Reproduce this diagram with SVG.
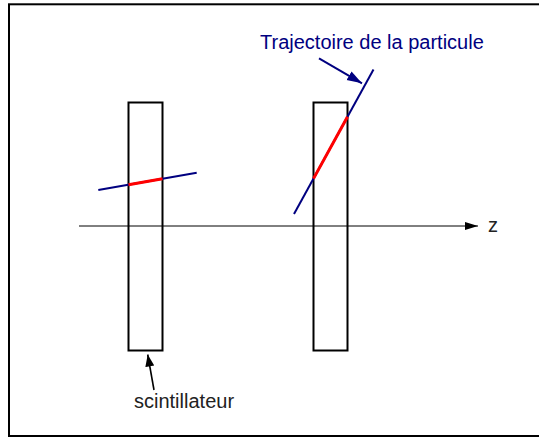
<svg xmlns="http://www.w3.org/2000/svg" width="539" height="437" viewBox="0 0 539 437">
<defs>
<style>
.frame{fill:#fff;stroke:#000;stroke-width:2}
.scint{fill:none;stroke:#000;stroke-width:2}
.traj{stroke:#000080;stroke-width:2;fill:none}
.hit{stroke:#ff0000;stroke-width:3;fill:none}
.lbl{font-family:"Liberation Sans",Arial,sans-serif;font-size:20px}
</style>
<marker id="ahBlack" viewBox="0 0 12 10" refX="12" refY="5" markerWidth="12" markerHeight="10" markerUnits="userSpaceOnUse" orient="auto">
<path d="M0,0.5 L12,5 L0,9.5 Z" fill="#000"/>
</marker>
<marker id="ahAxis" viewBox="0 0 13 9" refX="13" refY="4.5" markerWidth="13" markerHeight="9" markerUnits="userSpaceOnUse" orient="auto">
<path d="M0,0.5 L13,4.5 L0,8.5 Z" fill="#000"/>
</marker>
<marker id="ahBlue" viewBox="0 0 15 11" refX="15" refY="5.5" markerWidth="15" markerHeight="11" markerUnits="userSpaceOnUse" orient="auto">
<path d="M0,0.5 L15,5.5 L0,10.5 Z" fill="#000080"/>
</marker>
</defs>
<rect class="frame" x="9" y="4.3" width="540" height="431.7"/>
<g id="scintillator-1"><rect class="scint" x="128.5" y="102.5" width="34" height="248"/></g>
<g id="scintillator-2"><rect class="scint" x="313.5" y="102.5" width="34" height="248"/></g>
<g id="connectors">
<line x1="79" y1="226" x2="478" y2="226" stroke="#000" stroke-width="1" marker-end="url(#ahAxis)"/>
<line class="traj" x1="98.3" y1="190" x2="196.7" y2="172.7"/>
<line class="hit" x1="128.5" y1="184.7" x2="162.5" y2="178.7"/>
<line class="traj" x1="294" y1="214" x2="373.5" y2="69.5"/>
<line class="hit" x1="313.5" y1="178.6" x2="347.5" y2="116.8"/>
<line x1="319" y1="58.3" x2="362" y2="83.3" stroke="#000080" stroke-width="2" marker-end="url(#ahBlue)"/>
<line x1="154" y1="390" x2="147.7" y2="354.5" stroke="#000" stroke-width="1.6" marker-end="url(#ahBlack)"/>
</g>
<g id="label-trajectoire"><text class="lbl" x="260" y="49.3" fill="#000080">Trajectoire de la particule</text></g>
<g id="label-scintillateur"><text class="lbl" x="134" y="407.7" fill="#222">scintillateur</text></g>
<g id="label-z"><text class="lbl" x="488" y="232.3" fill="#222">z</text></g>
</svg>
